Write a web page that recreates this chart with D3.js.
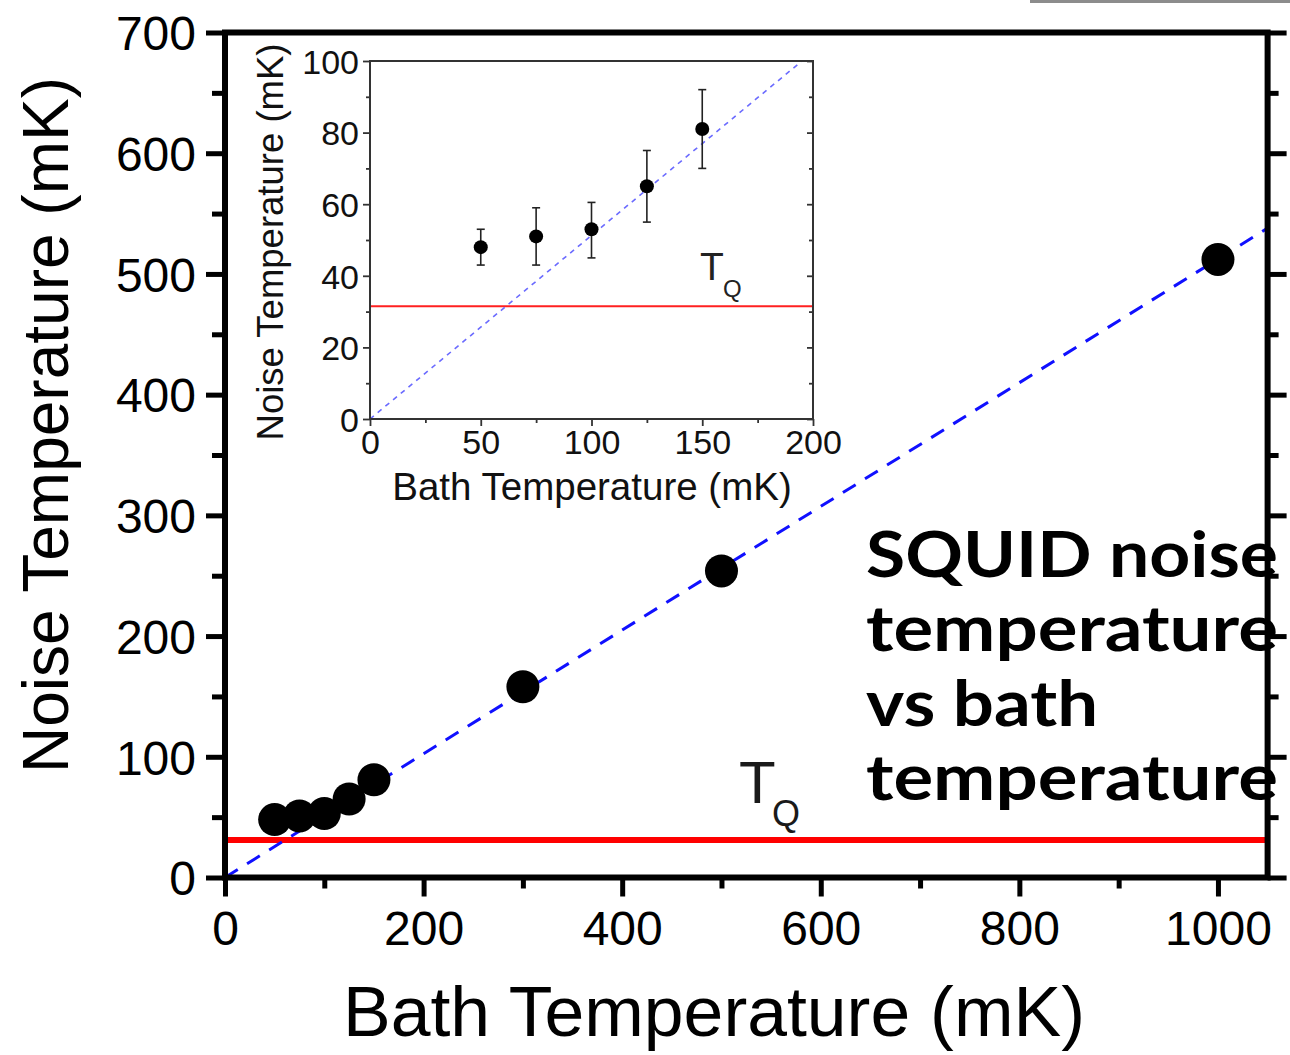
<!DOCTYPE html>
<html><head><meta charset="utf-8">
<script src="https://cdn.jsdelivr.net/npm/d3@7"></script>
<style>
html,body{margin:0;padding:0;background:#fff;}
svg{display:block;font-family:"Liberation Sans",Arial,sans-serif;}
</style></head>
<body>
<svg id="c" width="1290" height="1055"></svg>
<script>
// ---- data ----
const bathT  = [50, 75, 100, 125, 150, 300, 500, 1000];
const noiseT = [48, 51, 53, 65, 81, 158, 254, 512];
const insetBath  = [50, 75, 100, 125, 150];
const insetNoise = [48, 51, 53, 65, 81];
const insetErrLow  = [43, 43, 45, 55, 70];
const insetErrHigh = [53, 59, 60.5, 75, 92];
const TQ = 31;
const fitX = [0, 1050];
const fitY = [0, 538];
const insetFitX = [0, 195];
const insetFitY = [0, 100];
const mainXTicks = [0, 200, 400, 600, 800, 1000];
const mainYTicks = [0, 100, 200, 300, 400, 500, 600, 700];
const insetXTicks = [0, 50, 100, 150, 200];
const insetYTicks = [0, 20, 40, 60, 80, 100];
const noteLines = ["SQUID noise", "temperature", "vs bath", "temperature"];

const svg = d3.select("#c");

// gray bar at top right
svg.append("rect").attr("x",1030).attr("y",0).attr("width",260).attr("height",3).attr("fill","#8c8c8c");

// ---- main chart ----
const x = d3.scaleLinear().domain([0,1050]).range([225,1267.6]);
const y = d3.scaleLinear().domain([0,700]).range([877.5,32.5]);

svg.append("clipPath").attr("id","mclip").append("rect")
  .attr("x",x(0)).attr("y",y(700)).attr("width",x(1050)-x(0)).attr("height",y(0)-y(700));

// red TQ line
svg.append("line").attr("x1",x(0)).attr("x2",x(1050)).attr("y1",y(TQ)).attr("y2",y(TQ))
  .attr("stroke","#ff0000").attr("stroke-width",6);

// dashed fit
svg.append("path").attr("clip-path","url(#mclip)")
  .attr("d", d3.line().x(d=>x(d[0])).y(d=>y(d[1]))(fitX.map((v,i)=>[v,fitY[i]])))
  .attr("stroke","#1010ff").attr("stroke-width",3).attr("stroke-dasharray","15,11").attr("fill","none");

// points
svg.append("g").selectAll("circle").data(bathT).join("circle")
  .attr("cx",d=>x(d)).attr("cy",(d,i)=>y(noiseT[i])).attr("r",16.5).attr("fill","#000");

// axes
const gx = svg.append("g").attr("transform",`translate(0,${y(0)})`)
  .call(d3.axisBottom(x).tickValues(mainXTicks).tickSize(19).tickPadding(14).tickFormat(d3.format("d")));
const gxm = svg.append("g").attr("transform",`translate(0,${y(0)})`)
  .call(d3.axisBottom(x).tickValues([100,300,500,700,900]).tickSize(11).tickFormat(""));
const gy = svg.append("g").attr("transform",`translate(${x(0)},0)`)
  .call(d3.axisLeft(y).tickValues(mainYTicks).tickSize(19).tickPadding(10).tickFormat(d3.format("d")));
const gym = svg.append("g").attr("transform",`translate(${x(0)},0)`)
  .call(d3.axisLeft(y).tickValues([50,150,250,350,450,550,650]).tickSize(13).tickFormat(""));
const gr = svg.append("g").attr("transform",`translate(${x(1050)},0)`)
  .call(d3.axisRight(y).tickValues(mainYTicks).tickSize(19).tickFormat(""));
const grm = svg.append("g").attr("transform",`translate(${x(1050)},0)`)
  .call(d3.axisRight(y).tickValues([50,150,250,350,450,550,650]).tickSize(11).tickFormat(""));
[gx,gxm,gy,gym,gr,grm].forEach(g=>{
  g.select(".domain").remove();
  g.selectAll(".tick line").attr("stroke","#000").attr("stroke-width",5);
  g.selectAll("text").attr("font-size",48).attr("fill","#000").attr("font-family","Liberation Sans, Arial, sans-serif");
});
gy.selectAll("text").attr("dy","0.36em");
// frame
svg.append("rect").attr("x",x(0)).attr("y",y(700)).attr("width",x(1050)-x(0)).attr("height",y(0)-y(700))
  .attr("fill","none").attr("stroke","#000").attr("stroke-width",6);

// main axis titles
svg.append("text").attr("x",714).attr("y",1036).attr("text-anchor","middle")
  .attr("font-size",70).attr("fill","#000")
  .attr("textLength",742).attr("lengthAdjust","spacingAndGlyphs").text("Bath Temperature (mK)");
svg.append("text").attr("transform","translate(68,425) rotate(-90)").attr("text-anchor","middle")
  .attr("font-size",64).attr("fill","#000").text("Noise Temperature (mK)");

// main TQ label
svg.append("text").attr("x",739).attr("y",803).attr("font-size",60).attr("fill","#1a1a1a").text("T");
svg.append("text").attr("x",772).attr("y",826).attr("font-size",36).attr("fill","#1a1a1a").text("Q");

// note text
const noteY = [577, 651, 726, 800];
const noteW = [412, 412, 232, 412];
svg.append("g").selectAll("text").data(noteLines).join("text")
  .attr("x",866).attr("y",(d,i)=>noteY[i])
  .attr("font-family","Lato, 'Open Sans', sans-serif").attr("font-weight","bold")
  .attr("font-size",64).attr("fill","#000")
  .attr("textLength",(d,i)=>noteW[i]).attr("lengthAdjust","spacingAndGlyphs")
  .text(d=>d);

// ---- inset ----
const ix = d3.scaleLinear().domain([0,200]).range([370,813]);
const iy = d3.scaleLinear().domain([0,100]).range([419,61]);

svg.append("rect").attr("x",ix(0)).attr("y",iy(100)).attr("width",ix(200)-ix(0)).attr("height",iy(0)-iy(100)).attr("fill","#fff");

svg.append("clipPath").attr("id","iclip").append("rect")
  .attr("x",ix(0)).attr("y",iy(100)).attr("width",ix(200)-ix(0)).attr("height",iy(0)-iy(100));

svg.append("line").attr("x1",ix(0)).attr("x2",ix(200)).attr("y1",iy(TQ+0.5)).attr("y2",iy(TQ+0.5))
  .attr("stroke","#ff2020").attr("stroke-width",1.8);
svg.append("path").attr("clip-path","url(#iclip)")
  .attr("d", d3.line().x(d=>ix(d[0])).y(d=>iy(d[1]))(insetFitX.map((v,i)=>[v,insetFitY[i]])))
  .attr("stroke","#6b6bff").attr("stroke-width",1.6).attr("stroke-dasharray","5,5").attr("fill","none");

const eb = svg.append("g").attr("stroke","#222").attr("stroke-width",1.6);
insetBath.forEach((b,i)=>{
  eb.append("line").attr("x1",ix(b)).attr("x2",ix(b)).attr("y1",iy(insetErrLow[i])).attr("y2",iy(insetErrHigh[i]));
  eb.append("line").attr("x1",ix(b)-4).attr("x2",ix(b)+4).attr("y1",iy(insetErrLow[i])).attr("y2",iy(insetErrLow[i]));
  eb.append("line").attr("x1",ix(b)-4).attr("x2",ix(b)+4).attr("y1",iy(insetErrHigh[i])).attr("y2",iy(insetErrHigh[i]));
});
svg.append("g").selectAll("circle").data(insetBath).join("circle")
  .attr("cx",d=>ix(d)).attr("cy",(d,i)=>iy(insetNoise[i])).attr("r",7).attr("fill","#000");

const igx = svg.append("g").attr("transform",`translate(0,${iy(0)})`)
  .call(d3.axisBottom(ix).tickValues(insetXTicks).tickSize(7).tickPadding(4).tickFormat(d3.format("d")));
const igxm = svg.append("g").attr("transform",`translate(0,${iy(0)})`)
  .call(d3.axisBottom(ix).tickValues([25,75,125,175]).tickSize(4).tickFormat(""));
const igy = svg.append("g").attr("transform",`translate(${ix(0)},0)`)
  .call(d3.axisLeft(iy).tickValues(insetYTicks).tickSize(7).tickPadding(4).tickFormat(d3.format("d")));
const igym = svg.append("g").attr("transform",`translate(${ix(0)},0)`)
  .call(d3.axisLeft(iy).tickValues([10,30,50,70,90]).tickSize(4).tickFormat(""));
const igr = svg.append("g").attr("transform",`translate(${ix(200)},0)`)
  .call(d3.axisLeft(iy).tickValues(insetYTicks).tickSize(6).tickFormat(""));
const igrm = svg.append("g").attr("transform",`translate(${ix(200)},0)`)
  .call(d3.axisLeft(iy).tickValues([10,30,50,70,90]).tickSize(4).tickFormat(""));
[igx,igxm,igy,igym,igr,igrm].forEach(g=>{
  g.select(".domain").remove();
  g.selectAll(".tick line").attr("stroke","#333").attr("stroke-width",1.8);
  g.selectAll("text").attr("font-size",34).attr("fill","#111").attr("font-family","Liberation Sans, Arial, sans-serif");
});
igy.selectAll("text").attr("dy","0.36em");
igx.selectAll("text").attr("dy","0.72em");

svg.append("rect").attr("x",ix(0)).attr("y",iy(100)).attr("width",ix(200)-ix(0)).attr("height",iy(0)-iy(100))
  .attr("fill","none").attr("stroke","#333").attr("stroke-width",2);

svg.append("text").attr("x",592).attr("y",500).attr("text-anchor","middle")
  .attr("font-size",38.5).attr("fill","#111").text("Bath Temperature (mK)");
svg.append("text").attr("transform","translate(283,242) rotate(-90)").attr("text-anchor","middle")
  .attr("font-size",36.5).attr("fill","#111").text("Noise Temperature (mK)");

svg.append("text").attr("x",700).attr("y",280).attr("font-size",39).attr("fill","#222").text("T");
svg.append("text").attr("x",723).attr("y",297).attr("font-size",24).attr("fill","#222").text("Q");
</script>
</body></html>
